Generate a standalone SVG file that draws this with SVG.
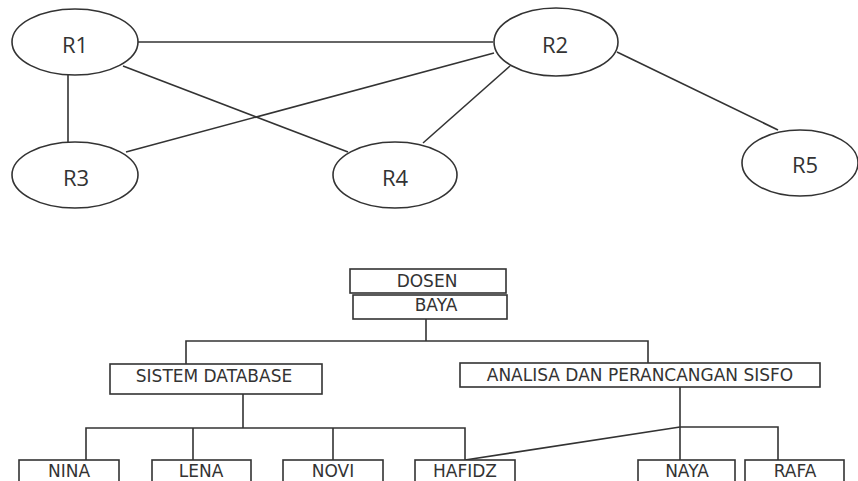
<svg xmlns="http://www.w3.org/2000/svg" width="858" height="481" viewBox="0 0 858 481">
<style>
.bg{fill:#fff}
.el{fill:#fff;stroke:#333;stroke-width:1.6}
.bx{fill:#fff;stroke:#333;stroke-width:1.6}
.ln{stroke:#333;stroke-width:1.6;fill:none}
.et{font-family:"Open Sans","Liberation Sans",sans-serif;font-size:22px;fill:#333;text-anchor:middle}
.bt{font-family:"DejaVu Sans","Liberation Sans",sans-serif;font-size:17px;fill:#333;text-anchor:middle}
</style>
<rect class="bg" x="0" y="0" width="858" height="481"/>
<g id="connectors">
<line class="ln" x1="137" y1="42" x2="493" y2="42"/>
<line class="ln" x1="68" y1="75" x2="68" y2="142"/>
<line class="ln" x1="123" y1="66" x2="348" y2="152"/>
<line class="ln" x1="494" y1="53" x2="126" y2="152"/>
<line class="ln" x1="510" y1="66" x2="423" y2="143"/>
<line class="ln" x1="617" y1="52" x2="778" y2="130"/>
<polyline class="ln" points="426,319 426,341"/>
<polyline class="ln" points="186,364 186,341 648,341 648,363"/>
<polyline class="ln" points="243,394 243,428"/>
<polyline class="ln" points="86,460 86,428 465,428 465,460"/>
<line class="ln" x1="193" y1="428" x2="193" y2="460"/>
<line class="ln" x1="333" y1="428" x2="333" y2="460"/>
<polyline class="ln" points="680,387 680,460"/>
<polyline class="ln" points="680,427 778,427 778,460"/>
<line class="ln" x1="465" y1="460" x2="680" y2="427"/>
</g>
<g id="R1"><ellipse class="el" cx="75" cy="42" rx="63" ry="33"/><text class="et" x="75" y="53">R1</text></g>
<g id="R2"><ellipse class="el" cx="556" cy="42" rx="62" ry="34"/><text class="et" x="555" y="53">R2</text></g>
<g id="R3"><ellipse class="el" cx="75" cy="175" rx="63" ry="33"/><text class="et" x="76" y="186">R3</text></g>
<g id="R4"><ellipse class="el" cx="395" cy="175" rx="62" ry="33"/><text class="et" x="395" y="186">R4</text></g>
<g id="R5"><ellipse class="el" cx="800" cy="163" rx="58" ry="33"/><text class="et" x="805" y="173">R5</text></g>
<g id="dosen"><rect class="bx" x="350" y="269" width="156" height="24"/><text class="bt" x="427" y="287">DOSEN</text></g>
<g id="baya"><rect class="bx" x="353" y="295" width="154" height="24"/><text class="bt" x="436" y="311">BAYA</text></g>
<g id="sistem"><rect class="bx" x="110" y="364" width="212" height="30"/><text class="bt" x="214" y="382">SISTEM DATABASE</text></g>
<g id="analisa"><rect class="bx" x="460" y="363" width="360" height="24"/><text class="bt" x="640" y="381">ANALISA DAN PERANCANGAN SISFO</text></g>
<g id="nina"><rect class="bx" x="19" y="460" width="100" height="30"/><text class="bt" x="69" y="477">NINA</text></g>
<g id="lena"><rect class="bx" x="152" y="460" width="99" height="30"/><text class="bt" x="201" y="477">LENA</text></g>
<g id="novi"><rect class="bx" x="283" y="460" width="100" height="30"/><text class="bt" x="333" y="477">NOVI</text></g>
<g id="hafidz"><rect class="bx" x="415" y="460" width="100" height="30"/><text class="bt" x="465" y="477">HAFIDZ</text></g>
<g id="naya"><rect class="bx" x="638" y="460" width="97" height="30"/><text class="bt" x="687" y="477">NAYA</text></g>
<g id="rafa"><rect class="bx" x="745" y="460" width="99" height="30"/><text class="bt" x="795" y="477">RAFA</text></g>
</svg>
